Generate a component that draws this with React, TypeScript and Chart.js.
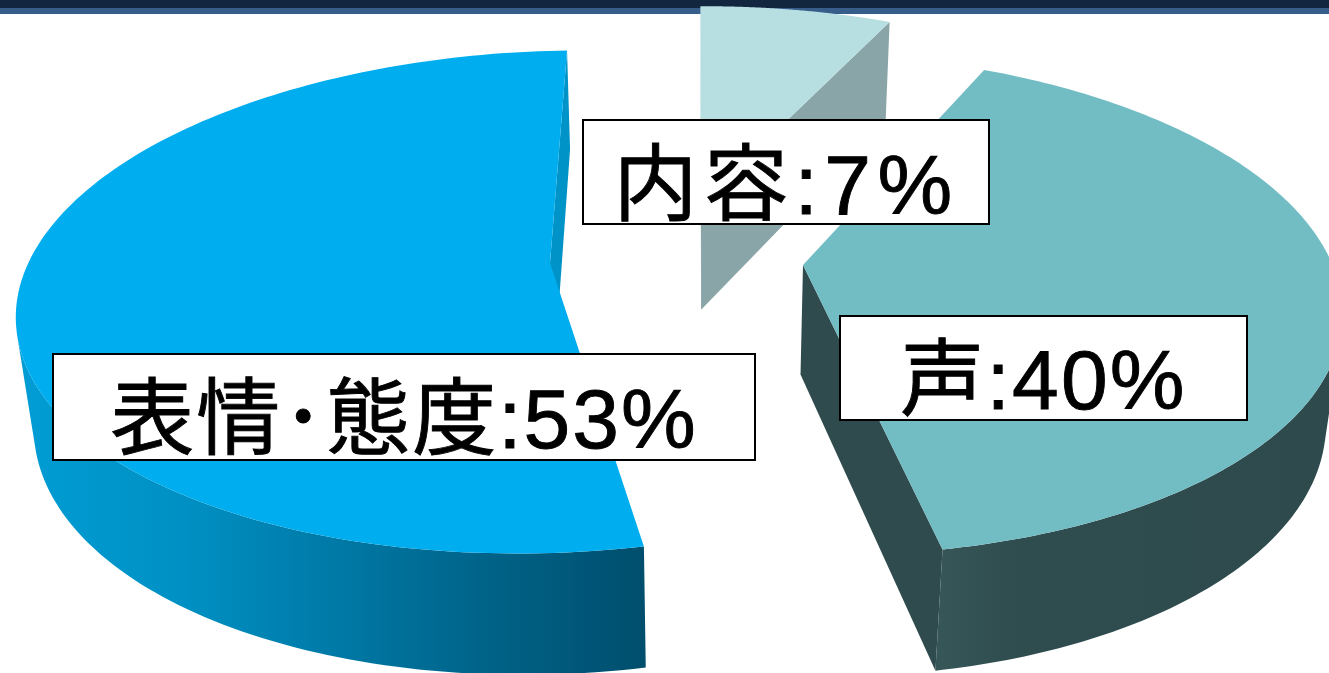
import React, { useEffect, useRef } from "react";
import { Chart, ArcElement, PieController } from "chart.js";

// ---- data ----
const categories = ["内容", "声", "表情･態度"];
const shares = [7, 40, 53];
const topColors = ["#b7dee1", "#72bcc4", "#00aeef"];

// ---- styling / perspective of each exploded slice ----
const ROTATION_DEG = 2.3;
const PERSPECTIVE = 0.155;
const apexes = [
  [701, 203],
  [803, 265],
  [550, 263],
];
const projections = [
  [505, 21, -10, 227],
  [525, 41, -10, 245],
  [528, 1.5, -16, 245],
];
const edgeColors = ["#8aa5a8", "#2f4b4d", "#0093c7"];
const rimStops: [number, string][][] = [
  [[0, "#8aa5a8"], [1, "#8aa5a8"]],
  [[0, "#365658"], [0.2, "#2f4c4e"], [1, "#2e4a4c"]],
  [[0, "#009cd3"], [0.25, "#0090c3"], [0.5, "#0079a6"], [0.75, "#006287"], [1, "#004e6d"]],
];
const rimSpans = [
  [700, 890],
  [940, 1329],
  [30, 646],
];
const labelBoxes = [
  [583, 120, 406, 104],
  [840, 316, 407, 104],
  [53, 354, 702, 106],
];
const labelBaselines = [214, 409, 448];
const labelSpacing = ["6.5px", "2.2px", "2px"];

const VANISH = [705, 4600];
const extrude = (x: number, y: number) => {
  const c = 0.0218 + (y - 51) * 0.0000163;
  return [x + (VANISH[0] - x) * c, y + (VANISH[1] - y) * c];
};

class Arc3D extends ArcElement {
  static id = "arc3d";
  draw(ctx: CanvasRenderingContext2D) {
    const i: number = (this as any).$context.dataIndex;
    const { startAngle, endAngle } = (this as any).getProps(["startAngle", "endAngle"], true);
    const [ax, ay] = apexes[i];
    const [m0, m1, m2, m3] = projections[i];
    const top = (angle: number) => {
      const t = angle + Math.PI / 2;
      const u = Math.sin(t);
      const v = -Math.cos(t);
      const w = 1 - PERSPECTIVE * v;
      return [ax + (m0 * u + m1 * v) / w, ay + (m2 * u + m3 * v) / w];
    };
    const N = 160;
    const rimTop: number[][] = [];
    for (let k = 0; k <= N; k++) rimTop.push(top(startAngle + ((endAngle - startAngle) * k) / N));
    const rimBottom = rimTop.map((p) => extrude(p[0], p[1]));
    const trace = (pts: number[][]) => {
      pts.forEach((p, k) => (k ? ctx.lineTo(p[0], p[1]) : ctx.moveTo(p[0], p[1])));
      ctx.closePath();
    };
    const poly = (pts: number[][], fill: string | CanvasGradient) => {
      ctx.beginPath();
      trace(pts);
      ctx.fillStyle = fill;
      ctx.fill();
    };
    ctx.save();
    // outer rim: front-facing quads in one path, filled once, so there are no seams
    const grad = ctx.createLinearGradient(rimSpans[i][0], 0, rimSpans[i][1], 0);
    rimStops[i].forEach(([o, c]) => grad.addColorStop(o, c));
    ctx.beginPath();
    for (let k = 0; k < N; k++) {
      const a = rimTop[k];
      const b = rimTop[k + 1];
      const bb = rimBottom[k + 1];
      if ((b[0] - a[0]) * (bb[1] - b[1]) - (b[1] - a[1]) * (bb[0] - b[0]) < 0) {
        trace([a, b, bb, rimBottom[k]]);
      }
    }
    ctx.fillStyle = grad;
    ctx.fill();
    // radial walls, back-face culled
    const apexTop = [ax, ay];
    const apexBottom = extrude(ax, ay);
    const sFirst = rimTop[0];
    const sFirstB = rimBottom[0];
    const sLast = rimTop[N];
    const sLastB = rimBottom[N];
    if ((sFirst[0] - ax) * (sFirstB[1] - sFirst[1]) - (sFirst[1] - ay) * (sFirstB[0] - sFirst[0]) < 0) {
      poly([apexTop, sFirst, sFirstB, apexBottom], edgeColors[i]);
    }
    if ((ax - sLast[0]) * (apexBottom[1] - ay) - (ay - sLast[1]) * (apexBottom[0] - ax) < 0) {
      poly([sLast, apexTop, apexBottom, sLastB], edgeColors[i]);
    }
    // top face
    poly([apexTop, ...rimTop], (this as any).options.backgroundColor);
    ctx.restore();
  }
}

class Pie3DController extends PieController {
  static id = "pie3d";
  static defaults = { dataElementType: "arc3d" };
}

Chart.register(Arc3D, Pie3DController);

const headerBand = {
  id: "headerBand",
  beforeDatasetsDraw(chart: any) {
    const { ctx, width } = chart;
    ctx.save();
    ctx.fillStyle = "#12263f";
    ctx.fillRect(0, 0, width, 8);
    ctx.fillStyle = "#375d8b";
    ctx.fillRect(0, 8, width, 6);
    ctx.restore();
  },
};

const boxLabels = {
  id: "boxLabels",
  afterDatasetsDraw(chart: any) {
    const { ctx } = chart;
    const labels: string[] = chart.data.labels;
    const values: number[] = chart.data.datasets[0].data;
    ctx.save();
    labels.forEach((name, i) => {
      const [x, y, w, h] = labelBoxes[i];
      ctx.fillStyle = "#ffffff";
      ctx.fillRect(x, y, w, h);
      ctx.font = '84px "Liberation Sans", "Noto Sans CJK JP", sans-serif';
      ctx.letterSpacing = labelSpacing[i];
      ctx.fillStyle = "#000000";
      ctx.strokeStyle = "#000000";
      ctx.lineWidth = 0.9;
      ctx.textAlign = "center";
      ctx.textBaseline = "alphabetic";
      const text = `${name}:${values[i]}%`;
      ctx.fillText(text, x + w / 2, labelBaselines[i]);
      ctx.strokeText(text, x + w / 2, labelBaselines[i]);
      ctx.lineWidth = 2;
      ctx.strokeRect(x, y, w, h);
    });
    ctx.restore();
  },
};

export default function App() {
  const ref = useRef<HTMLCanvasElement>(null);
  useEffect(() => {
    document.body.style.margin = "0";
    document.body.style.background = "#ffffff";
    const chart = new Chart(ref.current as HTMLCanvasElement, {
      type: "pie3d" as any,
      data: {
        labels: categories,
        datasets: [{ data: shares, backgroundColor: topColors, borderWidth: 0 }],
      },
      options: {
        animation: false,
        responsive: false,
        rotation: ROTATION_DEG,
        layout: { padding: 0 },
        plugins: { legend: { display: false }, tooltip: { enabled: false } },
      } as any,
      plugins: [headerBand, boxLabels],
    });
    return () => chart.destroy();
  }, []);
  return (
    <canvas
      ref={ref}
      width={1329}
      height={673}
      style={{ display: "block", width: 1329, height: 673 }}
    />
  );
}
